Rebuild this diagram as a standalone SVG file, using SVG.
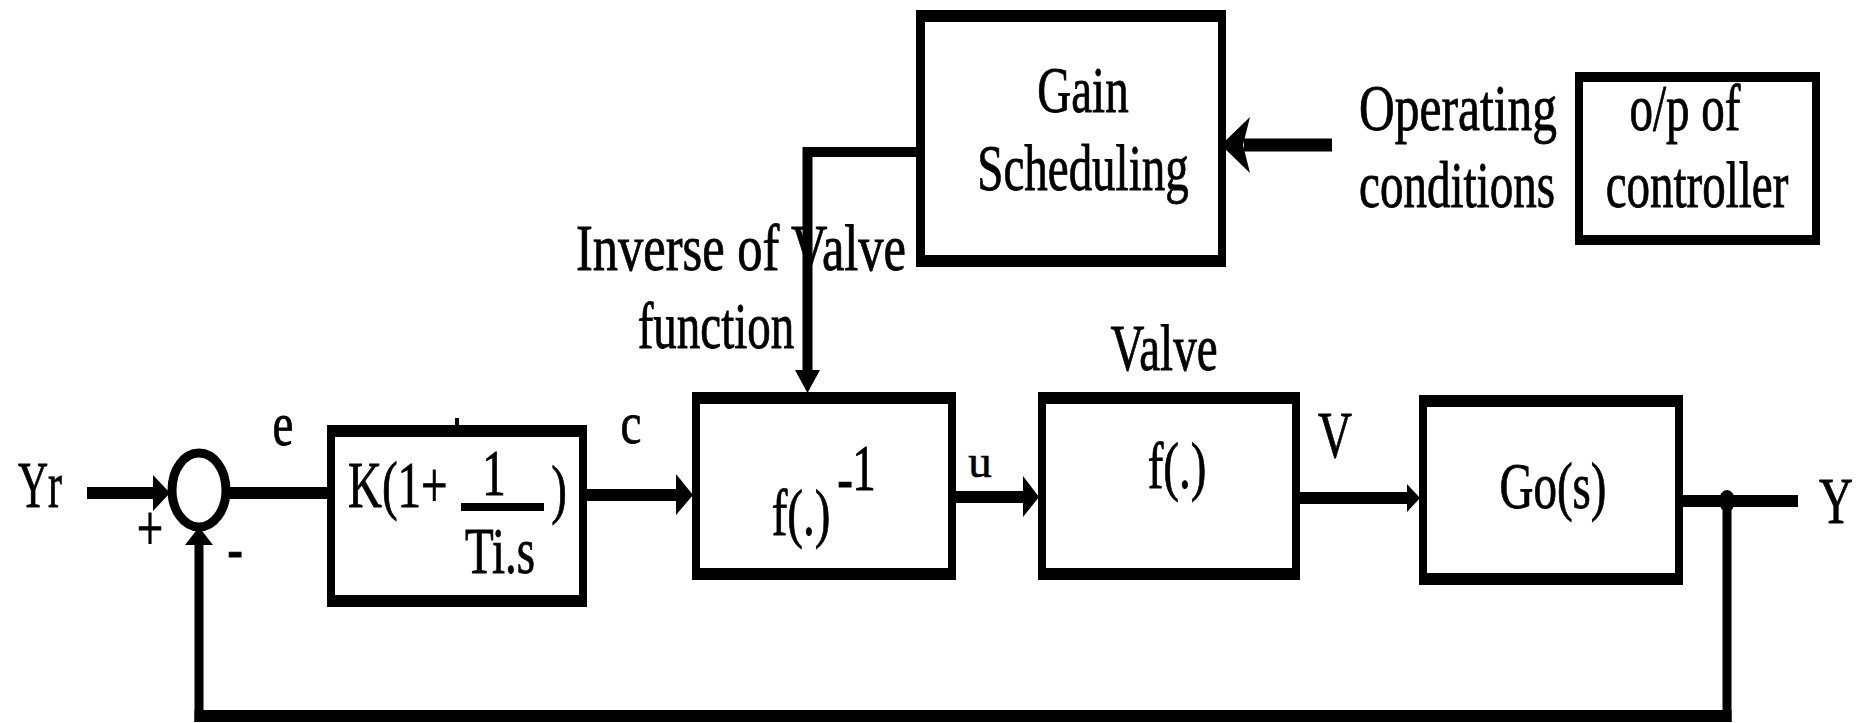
<svg xmlns="http://www.w3.org/2000/svg" width="1860" height="723" viewBox="0 0 1860 723">
<style>
.t{font-family:"Liberation Serif","Times New Roman",serif;font-size:47px;fill:#000;stroke:#000;stroke-width:0.6}
.m{text-anchor:middle}
.frame{fill:#000}
.inner{fill:#fff}
.ln{stroke:#000;fill:none;stroke-linecap:butt;stroke-linejoin:miter}
.ah{fill:#000}
</style>
<rect width="1860" height="723" fill="#fff"/>

<g id="labels">
<text class="t" transform="translate(18,507) scale(1,1.38)" textLength="44" lengthAdjust="spacingAndGlyphs">Yr</text>
<text class="t m" transform="translate(150,550) scale(1,1.38)">+</text>
<text class="t m" transform="translate(235,570) scale(1,1.38)">-</text>
<text class="t m" transform="translate(283,445) scale(1,1.3)">e</text>
<text class="t m" transform="translate(631,443) scale(1,1.25)">c</text>
<text class="t m" transform="translate(980,477) scale(1,1)">u</text>
<text class="t m" transform="translate(1335,457) scale(1,1.38)">V</text>
<text class="t m" transform="translate(1836,523) scale(1,1.38)">Y</text>
<text class="t m" transform="translate(1164,370) scale(1,1.38)">Valve</text>
<text class="t" transform="translate(576,270) scale(1,1.38)" textLength="330" lengthAdjust="spacingAndGlyphs">Inverse of Valve</text>
<text class="t m" transform="translate(716,348) scale(1,1.38)">function</text>
<text class="t" transform="translate(1359,130) scale(1,1.38)" textLength="198" lengthAdjust="spacingAndGlyphs">Operating</text>
<text class="t" transform="translate(1359,207) scale(1,1.38)" textLength="196" lengthAdjust="spacingAndGlyphs">conditions</text>
</g>

<g id="sum">
<ellipse cx="199" cy="490" rx="27" ry="37" fill="#fff" stroke="#000" stroke-width="9"/>
</g>

<g id="pi-controller">
<rect class="frame" x="327" y="425" width="260" height="182"/>
<rect class="inner" x="335" y="437" width="244" height="158"/>
<rect class="frame" x="455" y="418" width="4" height="8"/>
<text class="t" transform="translate(348,507) scale(1,1.38)">K(1+</text>
<text class="t m" transform="translate(494,495) scale(1,1.38)">1</text>
<rect class="frame" x="461" y="503" width="83" height="8"/>
<text class="t m" transform="translate(559,511) scale(1,1.38)">)</text>
<text class="t" transform="translate(465,573) scale(1,1.38)">Ti.s</text>
</g>

<g id="inverse-valve">
<rect class="frame" x="692" y="392" width="264" height="188"/>
<rect class="inner" x="700" y="404" width="248" height="164"/>
<text class="t m" transform="translate(801,535) scale(1,1.38)">f(.)</text>
<text class="t m" transform="translate(845,500) scale(1,1.38)">-</text>
<text class="t m" transform="translate(864,490) scale(1,1.38)">1</text>
</g>

<g id="valve">
<rect class="frame" x="1038" y="392" width="262" height="188"/>
<rect class="inner" x="1046" y="404" width="246" height="164"/>
<text class="t m" transform="translate(1177,488) scale(1,1.38)">f(.)</text>
</g>

<g id="plant">
<rect class="frame" x="1419" y="395" width="264" height="190"/>
<rect class="inner" x="1427" y="407" width="248" height="166"/>
<text class="t m" transform="translate(1553,508) scale(1,1.38)">Go(s)</text>
</g>

<g id="gain-scheduling">
<rect class="frame" x="916" y="10" width="310" height="257"/>
<rect class="inner" x="925" y="22" width="293" height="233"/>
<text class="t m" transform="translate(1083,112) scale(1,1.38)">Gain</text>
<text class="t m" transform="translate(1083,190) scale(1,1.38)">Scheduling</text>
</g>

<g id="op-controller">
<rect class="frame" x="1575" y="72" width="245" height="173"/>
<rect class="inner" x="1583" y="82" width="229" height="153"/>
<text class="t m" transform="translate(1685,130) scale(1,1.38)">o/p of</text>
<text class="t m" transform="translate(1697,207) scale(1,1.38)">controller</text>
</g>

<g id="connectors">
<path class="ln" d="M87,493 H160" stroke-width="12"/>
<polygon class="ah" points="153,475 170,493 153,511"/>
<path class="ln" d="M228,493 H328" stroke-width="12"/>
<path class="ln" d="M586,495 H680" stroke-width="12"/>
<polygon class="ah" points="676,474 693,495 676,515"/>
<path class="ln" d="M955,497 H1026" stroke-width="12"/>
<polygon class="ah" points="1023,476 1039,497 1023,517"/>
<path class="ln" d="M1299,498 H1410" stroke-width="12"/>
<polygon class="ah" points="1407,484 1420,498 1407,512"/>
<path class="ln" d="M1682,501 H1798" stroke-width="12"/>
<path class="ln" d="M1727,501 V722" stroke-width="9"/>
<path class="ln" d="M1731.5,716 H194.5" stroke-width="12"/>
<path class="ln" d="M199,722 V542" stroke-width="9"/>
<polygon class="ah" points="185,545 199,527 213,545"/>
<ellipse class="ah" cx="1727" cy="501" rx="8" ry="11"/>
<path class="ln" d="M917,152 H807.5 V372" stroke-width="10"/>
<polygon class="ah" points="795,370 807.5,393 820,370"/>
<path class="ln" d="M1332,145 H1244" stroke-width="13"/>
<path class="ah" d="M1221,145 L1250,117 L1243,145 L1250,173 Z"/>
</g>
</svg>
